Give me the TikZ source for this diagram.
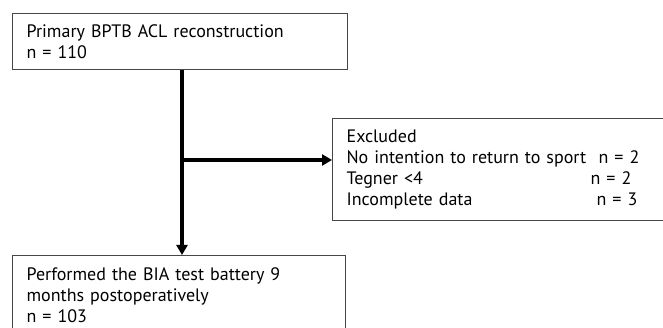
\documentclass[tikz,border=0pt]{standalone}
\usepackage{fontspec}
\setmainfont{PT Sans}
\usetikzlibrary{positioning,calc,arrows.meta}
\definecolor{boxline}{RGB}{70,70,70}
\tikzset{
  flowbox/.style={draw=boxline,line width=1.2pt,align=left,anchor=north west,
                  inner xsep=14pt,inner ysep=0pt,
                  font=\fontsize{18}{21}\selectfont},
  flowline/.style={line width=3.3pt,-{Triangle[length=10pt,width=11pt]}}
}
\begin{document}
\begin{tikzpicture}[x=1pt,y=-1pt]
        \clip (0,0) rectangle (663,328);
        \node[flowbox,minimum width=335pt,minimum height=56pt,text width=307pt]
             (prim) at (12,13) {Primary BPTB ACL reconstruction\\n = 110};
        \node[flowbox,minimum width=340pt,minimum height=102pt,text width=312pt]
             (excl) at (332,118) {Excluded\\
               \makebox[252pt][l]{No intention to return to sport}n = 2\\
               \makebox[244pt][l]{Tegner <4}n = 2\\
               \makebox[250pt][l]{Incomplete data}n = 3};
        \node[flowbox,minimum width=333pt,minimum height=80pt,text width=305pt]
             (test) at (12,255) {Performed the BIA test battery 9\\months postoperatively\\n = 103};
        \coordinate (split) at (182,160);
        \draw[flowline] (prim.south -| split) -- (test.north -| split);
        \draw[flowline] (split) -- (excl.west |- split);
      \end{tikzpicture}
\end{document}
